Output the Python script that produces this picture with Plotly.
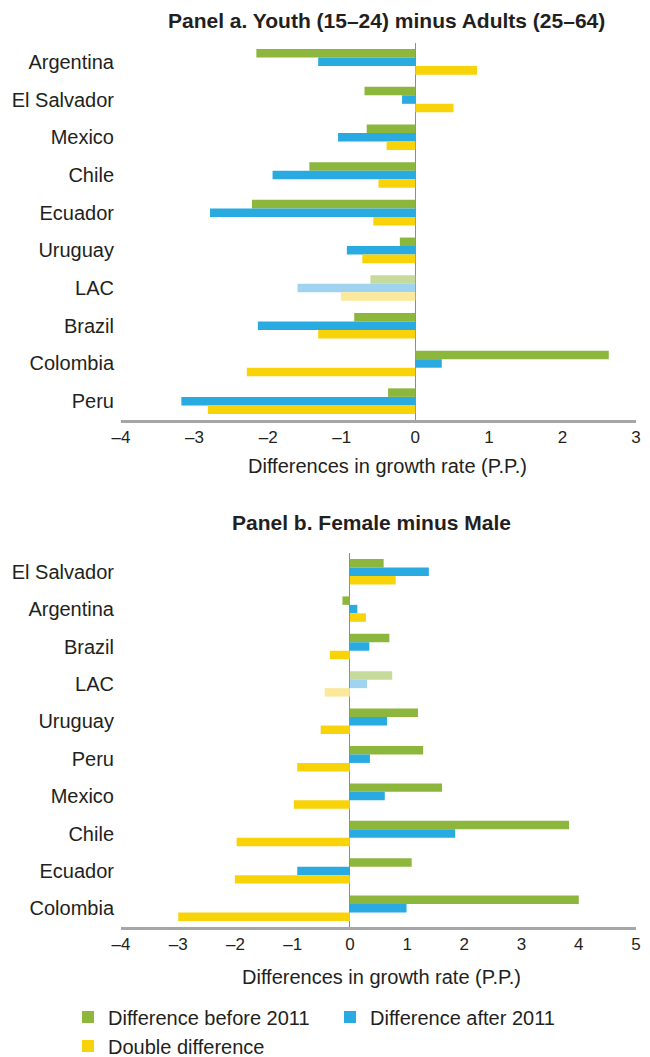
import plotly.graph_objects as go
from plotly.subplots import make_subplots

# Panel a. Youth (15-24) minus Adults (25-64)
countries_a = ["Argentina", "El Salvador", "Mexico", "Chile", "Ecuador",
               "Uruguay", "LAC", "Brazil", "Colombia", "Peru"]
before_a = [-2.16, -0.69, -0.66, -1.44, -2.22, -0.21, -0.61, -0.83, 2.63, -0.37]
after_a = [-1.32, -0.18, -1.05, -1.94, -2.79, -0.93, -1.60, -2.14, 0.36, -3.18]
double_a = [0.84, 0.52, -0.39, -0.50, -0.57, -0.72, -1.01, -1.32, -2.29, -2.82]

# Panel b. Female minus Male
countries_b = ["El Salvador", "Argentina", "Brazil", "LAC", "Uruguay",
               "Peru", "Mexico", "Chile", "Ecuador", "Colombia"]
before_b = [0.59, -0.13, 0.69, 0.74, 1.19, 1.28, 1.61, 3.83, 1.08, 4.00]
after_b = [1.38, 0.13, 0.34, 0.30, 0.65, 0.35, 0.61, 1.84, -0.92, 0.99]
double_b = [0.80, 0.28, -0.35, -0.44, -0.51, -0.92, -0.98, -1.98, -2.01, -3.00]

ticks_a = [-4, -3, -2, -1, 0, 1, 2, 3]
ticks_b = [-4, -3, -2, -1, 0, 1, 2, 3, 4, 5]

names = ["Difference before 2011", "Difference after 2011", "Double difference"]
colors = ["#8DB63C", "#29ABE2", "#F9D30A"]
light = ["#C5DA9B", "#A0D3EF", "#FBE89A"]
legend_of = ["legend", "legend2", "legend"]

FONT = "Liberation Sans, Arial, sans-serif"
TXT = "#231F20"

# page body has an 8px margin, so figure is drawn 8px smaller and coords shifted
W, H = 642, 1049
ML, MR, MT, MB = 113, 14, 0, 80
PH = H - MT - MB


def py(y_screen):
    return (PH - (y_screen - 8 - MT)) / PH


def px(x_screen):
    return (x_screen - 8 - ML) / (W - ML - MR)


def lbl(v):
    return str(v).replace("-", "\u2013")


def colors_for(cats, i):
    return [light[i] if c == "LAC" else colors[i] for c in cats]


fig = make_subplots(rows=2, cols=1)

for i, vals in enumerate([before_a, after_a, double_a]):
    fig.add_trace(go.Bar(y=countries_a, x=vals, orientation="h", name=names[i],
                         marker=dict(color=colors_for(countries_a, i), line_width=0),
                         legend=legend_of[i], showlegend=True), row=1, col=1)
for i, vals in enumerate([before_b, after_b, double_b]):
    fig.add_trace(go.Bar(y=countries_b, x=vals, orientation="h", name=names[i],
                         marker=dict(color=colors_for(countries_b, i), line_width=0),
                         legend=legend_of[i], showlegend=False), row=2, col=1)

fig.update_xaxes(showgrid=False, showline=True, linecolor="#A6A6A6", linewidth=2.5,
                 zeroline=True, zerolinecolor="#8C8C8C", zerolinewidth=1,
                 ticks="", automargin=False,
                 tickfont=dict(size=17, color=TXT, family=FONT))
fig.update_xaxes(range=[-4, 3], tickvals=ticks_a, ticktext=[lbl(t) for t in ticks_a], row=1, col=1)
fig.update_xaxes(range=[-4, 5], tickvals=ticks_b, ticktext=[lbl(t) for t in ticks_b], row=2, col=1)

fig.update_yaxes(showgrid=False, showline=False, zeroline=False, ticks="",
                 automargin=False, autorange="reversed", ticklabelstandoff=6,
                 tickfont=dict(size=20, color=TXT, family=FONT))
fig.update_yaxes(domain=[py(420), py(43)], row=1, col=1)
fig.update_yaxes(domain=[py(927), py(553)], row=2, col=1)

annots = [
    ("<b>Panel a. Youth (15\u201324) minus Adults (25\u201364)</b>", 386, 20, 21),
    ("<b>Panel b. Female minus Male</b>", 371.5, 522, 21),
    ("Differences in growth rate (P.P.)", 387, 466, 20),
    ("Differences in growth rate (P.P.)", 381, 977, 20),
]
for text, xs, ys, size in annots:
    fig.add_annotation(text=text, x=px(xs), y=py(ys), xref="paper", yref="paper",
                       xanchor="center", yanchor="middle", showarrow=False,
                       font=dict(size=size, color=TXT, family=FONT))

# horizontal legends; the wide entry forces legend 1 onto two rows
leg_common = dict(orientation="h", xref="container", yref="container", xanchor="left",
                  yanchor="top", y=(H - (1018 - 8 - 20.5)) / H, itemwidth=30,
                  entrywidthmode="pixels", font=dict(size=20, color=TXT, family=FONT),
                  tracegroupgap=0, traceorder="normal", bgcolor="rgba(0,0,0,0)")

fig.update_layout(
    width=W, height=H,
    margin=dict(l=ML, r=MR, t=MT, b=MB),
    plot_bgcolor="white", paper_bgcolor="white",
    barmode="group", bargap=0.32, bargroupgap=0,
    font=dict(family=FONT, color=TXT),
    legend=dict(x=(68 - 8) / W, entrywidth=300, **leg_common),
    legend2=dict(x=(330 - 8) / W, entrywidth=210, **leg_common),
)

fig.write_html("out.html")
